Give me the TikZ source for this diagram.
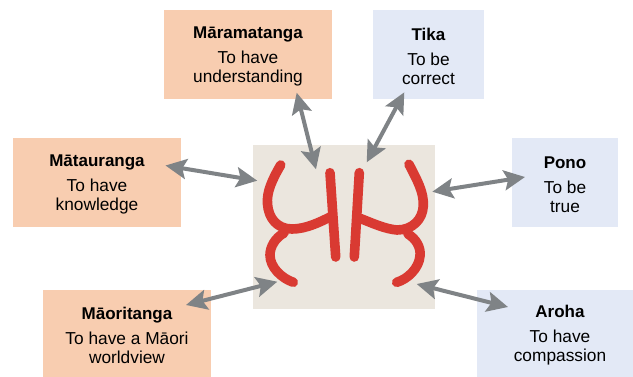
\documentclass[tikz,border=0pt]{standalone}
\usepackage{fontspec}
\setmainfont{Liberation Sans}
\usetikzlibrary{arrows.meta}
\definecolor{peach}{HTML}{F8CDB0}
\definecolor{paleblue}{HTML}{E3E9F6}
\definecolor{arrowgrey}{HTML}{7F8386}
\definecolor{symbolred}{HTML}{D93A32}
\definecolor{panel}{HTML}{EBE6DE}
\tikzset{
  x=1pt,y=-1pt,
  infobox/.style={draw=none,inner sep=0pt,align=center,font=\fontsize{17.3}{19}\selectfont},
  link/.style={draw=arrowgrey,line width=4pt,{Stealth[length=21pt,width=20pt,inset=4pt]}-{Stealth[length=21pt,width=20pt,inset=4pt]}},
  stroke/.style={draw=symbolred,line width=9.6pt,line cap=round,line join=round}
}
\newcommand{\boxtext}[2]{\rule{0pt}{15.5pt}{\bfseries\fontsize{17}{19}\selectfont #1}\\[6pt]#2}
\begin{document}
\begin{tikzpicture}
\useasboundingbox (0,0) rectangle (633,376);
\clip (0,0) rectangle (633,376);
\node[infobox,fill=peach,minimum width=168pt,minimum height=89pt] (mara) at (248,54.5) {\boxtext{Māramatanga}{To have\\understanding}};
\node[infobox,fill=paleblue,minimum width=111pt,minimum height=89pt] (tika) at (428.5,54.5) {\boxtext{Tika}{To be\\correct}};
\node[infobox,fill=peach,minimum width=168pt,minimum height=89pt] (matau) at (97,182.5) {\boxtext{Mātauranga}{To have\\knowledge}};
\node[infobox,fill=paleblue,minimum width=106pt,minimum height=89pt] (pono) at (565,182.5) {\boxtext{Pono}{To be\\true}};
\node[infobox,fill=peach,minimum width=168pt,minimum height=88pt] (maori) at (127,334) {\boxtext{Māoritanga}{To have a Māori\\worldview}};
\node[infobox,fill=paleblue,minimum width=166pt,minimum height=88pt] (aroha) at (560,334) {\boxtext{Aroha}{To have\\compassion}};
\node[fill=panel,inner sep=0pt,minimum width=182pt,minimum height=164pt] (symbol) at (344,227) {};
% symbol
\draw[stroke] (280.7,165) .. controls (272,180) and (266.5,192) .. (267.5,204) .. controls (268.5,218) and (277,229) .. (292,229) .. controls (306,229) and (320,222) .. (330.7,216.7);
\draw[stroke] (330,172.7) -- (335.7,257);
\draw[stroke] (359.3,172.7) -- (354.3,257);
\draw[stroke] (409,164.3) .. controls (417,180) and (424,192) .. (423.3,206) .. controls (422.5,220) and (412,230) .. (397,230) .. controls (385,229) and (372,223) .. (360,218.3);
\draw[stroke] (284,233) .. controls (275,238) and (270,247) .. (270,255) .. controls (270,267) and (281,278) .. (293.3,282.3);
\draw[stroke] (408,234) .. controls (416,239) and (421,247) .. (420,256) .. controls (419,268) and (408,279) .. (396.7,282.3);
% connectors
\coordinate (c1) at (296.7,92.7);
\coordinate (c2) at (316,169.3);
\coordinate (c3) at (404.3,92.3);
\coordinate (c4) at (366.7,162.3);
\coordinate (c5) at (165.5,165.5);
\coordinate (c6) at (257.3,180.7);
\coordinate (c7) at (525,177);
\coordinate (c8) at (432.3,191.7);
\coordinate (c9) at (186,305);
\coordinate (c10) at (277.3,281.7);
\coordinate (c11) at (508,307);
\coordinate (c12) at (416.7,284);
\draw[link] (c1) -- (c2);
\draw[link] (c3) -- (c4);
\draw[link] (c5) -- (c6);
\draw[link] (c7) -- (c8);
\draw[link] (c9) -- (c10);
\draw[link] (c11) -- (c12);
\end{tikzpicture}
\end{document}
